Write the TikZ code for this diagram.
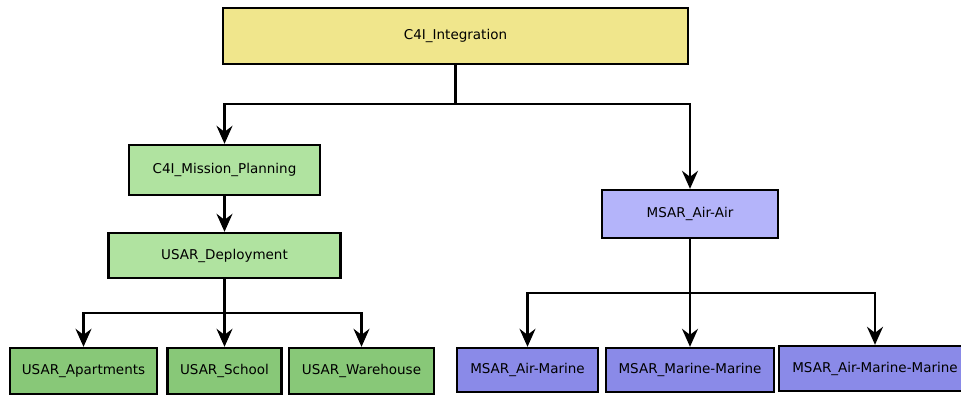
\documentclass[tikz,border=0pt]{standalone}
\usepackage{fontspec}
\setmainfont{DejaVu Sans}
\usetikzlibrary{arrows.meta}
\definecolor{cyellow}{HTML}{F0E68C}
\definecolor{cgreenA}{HTML}{B0E3A0}
\definecolor{cgreenB}{HTML}{88C878}
\definecolor{cpurpA}{HTML}{B4B4FA}
\definecolor{cpurpB}{HTML}{8A8AE8}
\begin{document}
\begin{tikzpicture}[x=1pt,y=-1pt,
  box/.style={draw=black,line width=2.4pt,rectangle,inner sep=0pt,
    font=\fontsize{13.5}{16}\selectfont},
  arr/.style={draw=black,line width=2.2pt,-{Stealth[length=18pt,width=16pt,inset=6pt]}},
  ln/.style={draw=black,line width=2.2pt}]
\path[use as bounding box] (0,0) rectangle (961,397);
\fill[white] (0,0) rectangle (961,397);
\node[box,fill=cyellow,minimum width=465pt,minimum height=56pt] (top) at (455.5,36) {C4I\_Integration};
\node[box,fill=cgreenA,minimum width=191pt,minimum height=50pt] (plan) at (224.5,170) {C4I\_Mission\_Planning};
\node[box,fill=cgreenA,minimum width=232pt,minimum height=45pt] (dep) at (224.5,255.5) {USAR\_Deployment};
\node[box,fill=cgreenB,minimum width=147pt,minimum height=46pt] (apt) at (83.5,371) {USAR\_Apartments};
\node[box,fill=cgreenB,minimum width=114pt,minimum height=46pt] (school) at (224.5,371) {USAR\_School};
\node[box,fill=cgreenB,minimum width=145pt,minimum height=46pt] (ware) at (361.5,371) {USAR\_Warehouse};
\node[box,fill=cpurpA,minimum width=176pt,minimum height=48pt] (airair) at (690,214) {MSAR\_Air-Air};
\node[box,fill=cpurpB,minimum width=141pt,minimum height=44pt] (am) at (527.5,370) {MSAR\_Air-Marine};
\node[box,fill=cpurpB,minimum width=168pt,minimum height=44pt] (mm) at (690,370) {MSAR\_Marine-Marine};
\node[box,fill=cpurpB,minimum width=192pt,minimum height=45pt] (amm) at (875,368.5) {MSAR\_Air-Marine-Marine};
\coordinate (j1) at (455.5,104);
\coordinate (j2) at (224.5,313);
\coordinate (j3) at (690,293);
\draw[ln] (top.south) -- (j1);
\draw[arr] (j1) -| (plan.north);
\draw[arr] (j1) -| (airair.north);
\draw[arr] (plan.south) -- (dep.north);
\draw[ln] (dep.south) -- (j2);
\draw[arr] (j2) -| (apt.north);
\draw[arr] (j2) -- (school.north);
\draw[arr] (j2) -| (ware.north);
\draw[ln] (airair.south) -- (j3);
\draw[arr] (j3) -| (am.north);
\draw[arr] (j3) -- (mm.north);
\draw[arr] (j3) -| (amm.north);
\end{tikzpicture}
\end{document}
